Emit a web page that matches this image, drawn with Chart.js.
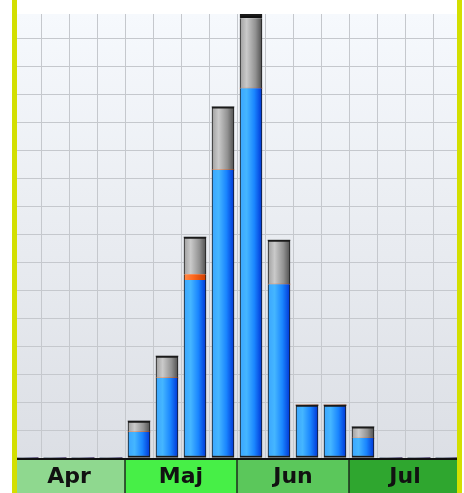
<!DOCTYPE html>
<html>
<head>
<meta charset="utf-8">
<script src="https://cdn.jsdelivr.net/npm/chart.js@4.4.1/dist/chart.umd.min.js"></script>
<style>
    html, body { margin: 0; padding: 0; background: #ffffff; }
    #wrap { width: 464px; height: 493px; }
</style>
</head>
<body>
<div id="wrap"><canvas id="weekChart" width="464" height="493"></canvas></div>
<script>
// weeks along the x axis (not shown, only the month band is)
const weeks = ["14", "15", "16", "17", "18", "19", "20", "21", "22", "23", "24", "25", "26", "27", "28", "29"];

const blueValues   = [0, 0, 0, 0, 9.3, 28.6, 63.6, 102.9, 132.1, 62.1, 18.9, 18.9, 7.1, 0, 0, 0];
const orangeValues = [0, 0, 0, 0, 0, 0, 2.0, 0, 0, 0, 0, 0, 0, 0, 0, 0];
const grayValues   = [0, 0, 0, 0, 3.9, 7.8, 13.3, 22.5, 25.0, 15.7, 0, 0, 4.0, 0, 0, 0];
const blackValues  = [0, 0, 0, 0, 0, 0, 0, 0, 1.4, 0, 0, 0, 0, 0, 0, 0];

const months = ["Apr", "Maj", "Jun", "Jul"];
const monthFirstWeek = [0, 4, 8, 12];
const monthWeekCount = [4, 4, 4, 4];
const monthColors = ["#8fd88f", "#47ef47", "#5bc75b", "#2fa62f"];

const yMax = 158.6;
const yStep = 10;

const allSeries = [blueValues, orangeValues, grayValues, blackValues];

function isTopSegment(datasetIndex, dataIndex) {
    for (let i = datasetIndex + 1; i < allSeries.length; i++) {
        if (allSeries[i][dataIndex] > 0) return false;
    }
    return true;
}

function segmentBorder(ctx) {
    const series = allSeries[ctx.datasetIndex];
    const value = series ? series[ctx.dataIndex] : 0;
    if (!value) return 0;
    return {
        left: 1,
        right: 1,
        top: isTopSegment(ctx.datasetIndex, ctx.dataIndex) ? 2 : 0,
        bottom: ctx.datasetIndex === 0 ? 2 : 0
    };
}

function cylinderFill(stops) {
    return function (ctx) {
        const chart = ctx.chart;
        const xScale = chart.scales.x;
        if (!xScale || ctx.dataIndex === undefined) return stops[1][1];
        const cx = xScale.getPixelForValue(ctx.dataIndex);
        if (!isFinite(cx)) return stops[1][1];
        const g = chart.ctx.createLinearGradient(cx - 11, 0, cx + 11, 0);
        stops.forEach(s => g.addColorStop(s[0], s[1]));
        return g;
    };
}

const plotBackground = {
    id: "plotBackground",
    beforeDraw(chart) {
        const c = chart.ctx;
        const a = chart.chartArea;
        c.save();
        c.fillStyle = "#ffffff";
        c.fillRect(0, 0, chart.width, chart.height);
        const g = c.createLinearGradient(0, a.top, 0, a.bottom);
        g.addColorStop(0, "#f6f9fd");
        g.addColorStop(1, "#dcdfe5");
        c.fillStyle = g;
        c.fillRect(a.left, a.top, a.right - a.left, a.bottom - a.top);
        c.restore();
    }
};

const monthBand = {
    id: "monthBand",
    afterDraw(chart) {
        const c = chart.ctx;
        const a = chart.chartArea;
        const xScale = chart.scales.x;
        const half = (xScale.getPixelForValue(1) - xScale.getPixelForValue(0)) / 2;
        const top = a.bottom;
        const bottom = chart.height;

        c.save();
        months.forEach((name, i) => {
            const x0 = xScale.getPixelForValue(monthFirstWeek[i]) - half;
            const x1 = xScale.getPixelForValue(monthFirstWeek[i] + monthWeekCount[i] - 1) + half;
            c.fillStyle = monthColors[i];
            c.fillRect(x0, top, x1 - x0, bottom - top);
            c.fillStyle = "#111111";
            c.font = "bold 22px 'DejaVu Sans'";
            c.textAlign = "center";
            c.textBaseline = "middle";
            c.fillText(name, (x0 + x1) / 2, (top + bottom) / 2 + 2);
            if (i > 0) {
                c.strokeStyle = "#1d2d1d";
                c.lineWidth = 1.5;
                c.beginPath();
                c.moveTo(x0, top);
                c.lineTo(x0, bottom);
                c.stroke();
            }
        });

        c.strokeStyle = "#111111";
        c.lineWidth = 2;
        c.beginPath();
        c.moveTo(a.left, top + 1);
        c.lineTo(a.right, top + 1);
        c.stroke();

        // yellow frame on both sides
        c.fillStyle = "#d3df00";
        c.fillRect(12, 0, 5, chart.height);
        c.fillRect(457, 0, 5, chart.height);
        c.restore();
    }
};

function yGridColor(ctx) {
    if (!ctx.tick) return "#c5c8cd";
    const v = ctx.tick.value;
    return Math.abs(v / yStep - Math.round(v / yStep)) < 1e-6 ? "#c5c8cd" : "rgba(0,0,0,0)";
}

new Chart(document.getElementById("weekChart"), {
    type: "bar",
    data: {
        labels: weeks,
        datasets: [
            {
                label: "Blå",
                data: blueValues,
                backgroundColor: cylinderFill([[0, "#3aa6ff"], [0.3, "#45b6ff"], [0.65, "#1a86ff"], [1, "#0036d6"]])
            },
            {
                label: "Orange",
                data: orangeValues,
                backgroundColor: cylinderFill([[0, "#ff8a4a"], [0.4, "#ff6a20"], [1, "#cc3c00"]])
            },
            {
                label: "Grå",
                data: grayValues,
                backgroundColor: cylinderFill([[0, "#a0a0a0"], [0.3, "#cacaca"], [0.7, "#929292"], [1, "#505050"]])
            },
            {
                label: "Svart",
                data: blackValues,
                backgroundColor: "#111111"
            }
        ]
    },
    options: {
        responsive: false,
        animation: false,
        devicePixelRatio: 1,
        layout: {
            padding: { left: 13, right: 3, top: 14, bottom: 35 }
        },
        datasets: {
            bar: {
                barThickness: 22,
                borderColor: "#1a1a1a",
                borderWidth: segmentBorder,
                borderSkipped: false
            }
        },
        plugins: {
            legend: { display: false },
            tooltip: { enabled: false }
        },
        scales: {
            x: {
                stacked: true,
                ticks: { display: false },
                border: { display: false },
                grid: {
                    color: "#c5c8cd",
                    drawTicks: false
                }
            },
            y: {
                stacked: true,
                min: 0,
                max: yMax,
                ticks: { display: false, stepSize: yStep },
                border: { display: false },
                grid: {
                    color: yGridColor,
                    drawTicks: false
                }
            }
        }
    },
    plugins: [plotBackground, monthBand]
});
</script>
</body>
</html>
